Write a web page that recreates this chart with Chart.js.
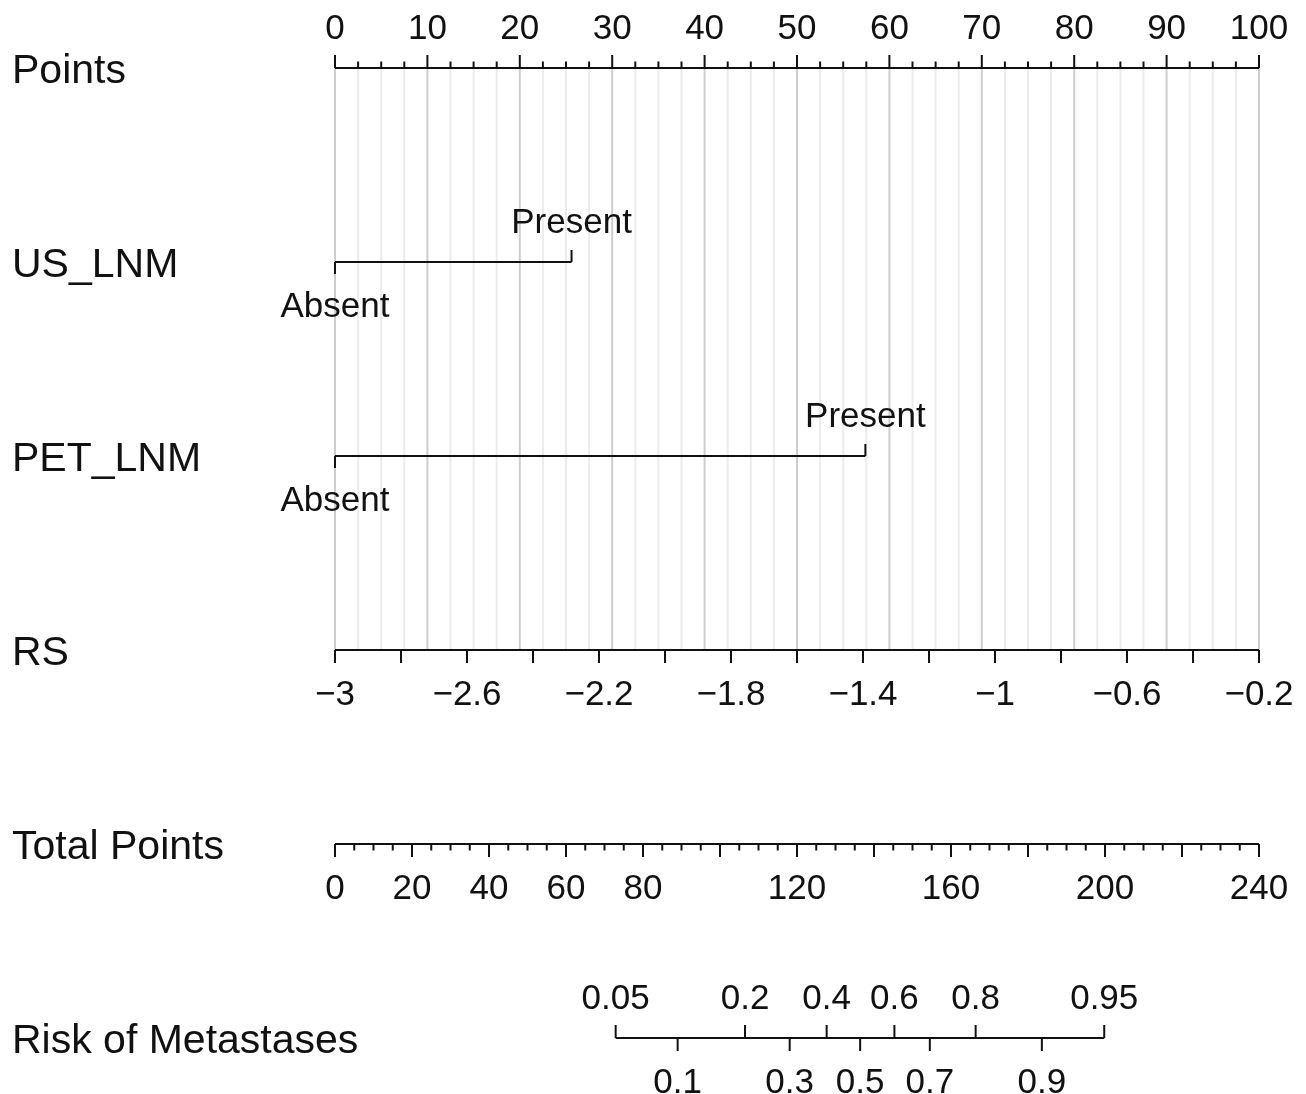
<!DOCTYPE html>
<html>
<head>
<meta charset="utf-8">
<title>Nomogram – Risk of Metastases</title>
<script src="https://cdn.jsdelivr.net/npm/chart.js@4.4.1/dist/chart.umd.min.js"></script>
<style>
  html, body { margin: 0; padding: 0; background: #ffffff; }
  canvas { display: block; }
</style>
</head>
<body>
<canvas id="nomogram" width="1306" height="1094"></canvas>
<script>
// Row titles, top to bottom
const rowNames = ['Points', 'US_LNM', 'PET_LNM', 'RS', 'Total Points', 'Risk of Metastases'];

// Points scale (labelled every 10, minor ticks every 2.5)
const pointMajorTicks = [0, 10, 20, 30, 40, 50, 60, 70, 80, 90, 100];
const pointMinorStep = 2.5;

// Categorical predictors: levels and the points each level contributes
const usLevels = ['Absent', 'Present'];
const usPoints = [0, 25.6];
const petLevels = ['Absent', 'Present'];
const petPoints = [0, 57.4];

// Radiomics score axis
const rsTicks = [-3, -2.8, -2.6, -2.4, -2.2, -2, -1.8, -1.6, -1.4, -1.2, -1, -0.8, -0.6, -0.4, -0.2];
const rsLabels = [-3, -2.6, -2.2, -1.8, -1.4, -1, -0.6, -0.2];

// Total points axis
const totalMajorTicks = [0, 20, 40, 60, 80, 100, 120, 140, 160, 180, 200, 220, 240];
const totalMinorStep = 5;
const totalLabels = [0, 20, 40, 60, 80, 120, 160, 200, 240];

// Predicted risk values and the total points at which each one falls
const riskValues = [0.05, 0.1, 0.2, 0.3, 0.4, 0.5, 0.6, 0.7, 0.8, 0.9, 0.95];
const riskTotalPoints = [72.9, 89.0, 106.5, 118.1, 127.7, 136.4, 145.3, 154.5, 166.4, 183.6, 199.8];

const INK = '#111111';
const FONT_FAMILY = '"Liberation Sans", Arial, Helvetica, sans-serif';
const TICK_FONT = 35;
const ROW_FONT = 41;
const LABEL_GAP = 42;      // distance from axis line to centre of tick label
const MAJOR_TICK = 13;
const MINOR_TICK = 6.5;

const fmt = v => String(v).replace('-', '\u2212');

function seg(ctx, x, y, len) {
  ctx.beginPath();
  ctx.moveTo(x, y);
  ctx.lineTo(x, y + len);
  ctx.stroke();
}

// side: -1 above the axis, +1 below it
function tickLabel(ctx, text, x, y, side) {
  ctx.fillText(text, x, y + side * LABEL_GAP + TICK_FONT * 0.358);
}

const nomogramPlugin = {
  id: 'nomogram',
  beforeDatasetsDraw(chart) {
    const { ctx } = chart;
    const { x, y } = chart.scales;
    const top = y.getPixelForValue(0);
    const bottom = y.getPixelForValue(3);
    ctx.save();
    ctx.lineWidth = 2;
    // light reference lines every 2.5 points, darker at every 10
    ctx.strokeStyle = '#ebebeb';
    for (let v = 0; v <= 100; v += pointMinorStep) {
      if (pointMajorTicks.includes(v)) continue;
      const px = x.getPixelForValue(v);
      ctx.beginPath(); ctx.moveTo(px, top); ctx.lineTo(px, bottom); ctx.stroke();
    }
    ctx.strokeStyle = '#cdcdcd';
    pointMajorTicks.forEach(v => {
      const px = x.getPixelForValue(v);
      ctx.beginPath(); ctx.moveTo(px, top); ctx.lineTo(px, bottom); ctx.stroke();
    });
    ctx.restore();
  },
  afterDatasetsDraw(chart) {
    const { ctx } = chart;
    const { x, xRS, xTP, y } = chart.scales;
    ctx.save();
    ctx.strokeStyle = INK;
    ctx.fillStyle = INK;
    ctx.lineWidth = 2;
    ctx.lineCap = 'butt';
    ctx.textAlign = 'center';
    ctx.textBaseline = 'alphabetic';
    ctx.font = TICK_FONT + 'px ' + FONT_FAMILY;

    // Points
    const y0 = y.getPixelForValue(0);
    for (let v = 0; v <= 100; v += pointMinorStep) {
      const major = pointMajorTicks.includes(v);
      seg(ctx, x.getPixelForValue(v), y0, -(major ? MAJOR_TICK : MINOR_TICK));
    }
    pointMajorTicks.forEach(v => tickLabel(ctx, fmt(v), x.getPixelForValue(v), y0, -1));

    // Categorical predictors
    [[usLevels, usPoints, 1], [petLevels, petPoints, 2]].forEach(([levels, pts, row]) => {
      const py = y.getPixelForValue(row);
      pts.forEach((p, i) => {
        const side = i % 2 === 0 ? 1 : -1;
        const px = x.getPixelForValue(p);
        seg(ctx, px, py, side * 12);
        tickLabel(ctx, levels[i], px, py, side);
      });
    });

    // RS
    const y3 = y.getPixelForValue(3);
    rsTicks.forEach(v => seg(ctx, xRS.getPixelForValue(v), y3, MAJOR_TICK));
    rsLabels.forEach(v => tickLabel(ctx, fmt(v), xRS.getPixelForValue(v), y3, 1));

    // Total Points
    const y4 = y.getPixelForValue(4);
    for (let v = 0; v <= 240; v += totalMinorStep) {
      const major = totalMajorTicks.includes(v);
      seg(ctx, xTP.getPixelForValue(v), y4, major ? MAJOR_TICK : MINOR_TICK);
    }
    totalLabels.forEach(v => tickLabel(ctx, fmt(v), xTP.getPixelForValue(v), y4, 1));

    // Risk of Metastases
    const y5 = y.getPixelForValue(5);
    riskValues.forEach((r, i) => {
      const side = i % 2 === 0 ? -1 : 1;
      const px = xTP.getPixelForValue(riskTotalPoints[i]);
      seg(ctx, px, y5, side * MAJOR_TICK);
      tickLabel(ctx, fmt(r), px, y5, side);
    });

    // Row titles
    ctx.textAlign = 'left';
    ctx.font = ROW_FONT + 'px ' + FONT_FAMILY;
    rowNames.forEach((name, i) => {
      ctx.fillText(name, 12, y.getPixelForValue(i) + ROW_FONT * 0.358);
    });
    ctx.restore();
  }
};

const lineStyle = {
  showLine: true,
  borderColor: INK,
  borderWidth: 2,
  pointRadius: 0,
  pointHoverRadius: 0,
  clip: false,
  borderCapStyle: 'butt'
};

new Chart(document.getElementById('nomogram'), {
  type: 'scatter',
  data: {
    datasets: [
      { ...lineStyle, label: 'Points', xAxisID: 'x', data: [{ x: 0, y: 0 }, { x: 100, y: 0 }] },
      { ...lineStyle, label: 'US_LNM', xAxisID: 'x', data: usPoints.map(p => ({ x: p, y: 1 })) },
      { ...lineStyle, label: 'PET_LNM', xAxisID: 'x', data: petPoints.map(p => ({ x: p, y: 2 })) },
      { ...lineStyle, label: 'RS', xAxisID: 'xRS',
        data: [{ x: rsTicks[0], y: 3 }, { x: rsTicks[rsTicks.length - 1], y: 3 }] },
      { ...lineStyle, label: 'Total Points', xAxisID: 'xTP',
        data: [{ x: totalMajorTicks[0], y: 4 }, { x: totalMajorTicks[totalMajorTicks.length - 1], y: 4 }] },
      { ...lineStyle, label: 'Risk of Metastases', xAxisID: 'xTP',
        data: [{ x: riskTotalPoints[0], y: 5 }, { x: riskTotalPoints[riskTotalPoints.length - 1], y: 5 }] }
    ]
  },
  options: {
    responsive: false,
    animation: false,
    events: [],
    layout: { padding: { left: 335, right: 47, top: 68, bottom: 56 } },
    plugins: { legend: { display: false }, tooltip: { enabled: false } },
    scales: {
      x:   { type: 'linear', axis: 'x', min: 0, max: 100, display: false },
      xRS: { type: 'linear', axis: 'x', min: rsTicks[0], max: rsTicks[rsTicks.length - 1], display: false },
      xTP: { type: 'linear', axis: 'x', min: 0, max: 240, display: false },
      y:   { type: 'linear', min: 0, max: 5, reverse: true, display: false }
    }
  },
  plugins: [nomogramPlugin]
});
</script>
</body>
</html>
